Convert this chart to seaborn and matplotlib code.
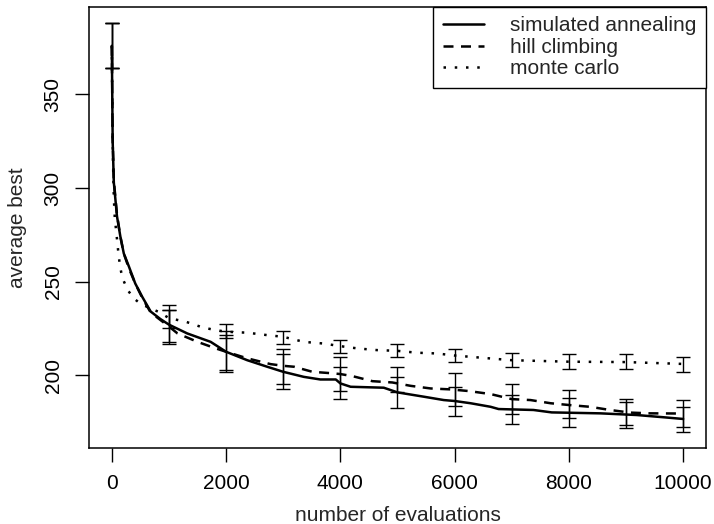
#average best vs number of evaluations for three search methods

import pandas as pd
from matplotlib import pyplot as plt
import seaborn as sns
import numpy as np

# simulated annealing curve
sa_x = [0, 15, 35, 90, 150, 210, 300, 410, 530, 680, 850, 1000, 1320, 1730, 2000, 2370, 2720, 3000,
        3360, 3650, 3920, 4000, 4180, 4760, 5000, 5460, 5810, 6000, 6280, 6630, 6770, 7380, 7700,
        8550, 9190, 9660, 10000]
sa_y = [376, 325, 303, 285, 274, 265, 258, 249, 242, 234, 230, 227, 222.3, 217.8, 212.5, 208, 204.5, 201.8,
        199.1, 197.7, 197.7, 195.6, 193.8, 193.3, 190.8, 188.5, 186.7, 186.2, 185, 183.1, 181.9, 181.4, 180.1,
        179.6, 178.7, 177.5, 176.6]

# hill climbing curve
hc_x = [0, 15, 35, 90, 150, 210, 300, 410, 530, 680, 850, 1000, 1150, 1500, 1820, 2000, 2370, 2780, 3000,
        3190, 3510, 3860, 4000, 4210, 4560, 4910, 5230, 5580, 5930, 6250, 6630, 7000, 7330, 7680, 8020,
        8370, 8720, 9070, 9420, 10000]
hc_y = [376, 326, 304, 286, 274, 265, 257, 249, 241.5, 233.5, 229.5, 226, 222.3, 217.8, 214.3, 212.5, 209, 205.9, 205,
        204.5, 201.8, 201, 200.6, 199.5, 196.8, 196.1, 194.3, 192.9, 192.4, 191.5, 189.9, 187.2, 186.7, 185, 184,
        183.1, 181.4, 180, 179.6, 179.5]

# monte carlo curve
mc_x = [0, 10, 20, 35, 52, 75, 93, 110, 134, 163, 210, 280, 385, 510, 820, 1000, 1300, 1590, 1780, 2000,
        2370, 2720, 3000, 3360, 3710, 4000, 4300, 4640, 5000, 5340, 5690, 6000, 7000, 8000, 9000, 10000]
mc_y = [376, 340, 315, 295, 284, 277.4, 272, 266.8, 260.5, 255.2, 250.2, 245.4, 241, 238, 233.8, 230.5, 228.5, 225.5, 224.3, 223.2,
        222.7, 221.4, 220.5, 217.8, 216.9, 215.5, 214.3, 213.4, 213, 212, 211.6, 210.5, 208, 207.2, 207, 206]

# error bars every 1000 evaluations (low, high)
eb_x = [0, 1000, 2000, 3000, 4000, 5000, 6000, 7000, 8000, 9000, 10000]
sa_lo = [364, 216.4, 201.8, 192.6, 187.3, 182.3, 178.2, 174.1, 172.5, 171.6, 169.8]
sa_hi = [388, 237.4, 223.5, 211.3, 204.2, 198.8, 193.5, 189.4, 188, 185.8, 183.1]
hc_lo = [364, 217.8, 202.5, 195.3, 191.7, 190.8, 183.5, 179.1, 177, 173.4, 172.5]
hc_hi = [388, 234.7, 221.5, 213.8, 209.5, 204.5, 201, 195.3, 192, 187, 186.7]
mc_lo = [364, 225, 219.6, 216.6, 211.7, 209.5, 206.8, 204.5, 203.3, 203.3, 201.8]
mc_hi = [388, 235, 227.3, 223.7, 218.7, 216.9, 213.9, 212, 211.1, 211.1, 209.5]

labels = ['simulated annealing', 'hill climbing', 'monte carlo']

df = pd.concat([
    pd.DataFrame({'evals': sa_x, 'best': sa_y, 'method': labels[0]}),
    pd.DataFrame({'evals': hc_x, 'best': hc_y, 'method': labels[1]}),
    pd.DataFrame({'evals': mc_x, 'best': mc_y, 'method': labels[2]}),
])

sns.set_style("ticks")
plt.rcParams['font.family'] = ['Liberation Sans', 'DejaVu Sans']
plt.rcParams['font.size'] = 15

fig = plt.figure(figsize=(7.14, 5.24), dpi=100)
ax = fig.add_axes([0.1246, 0.145, 0.8642, 0.8416])

sns.lineplot(data=df, x='evals', y='best', style='method', style_order=labels,
             dashes={labels[0]: '', labels[1]: (4, 3), labels[2]: (1, 3.5)},
             color='black', linewidth=1.8, estimator=None, sort=False, ax=ax)

# error bars
for lo, hi in [(sa_lo, sa_hi), (hc_lo, hc_hi), (mc_lo, mc_hi)]:
    lo = np.array(lo)
    hi = np.array(hi)
    mid = (lo + hi) / 2
    ax.errorbar(eb_x, mid, yerr=[mid - lo, hi - mid], fmt='none', ecolor='black',
                elinewidth=1.0, capsize=5, capthick=1.0)

allx = sa_x + hc_x + mc_x
ally = sa_lo + sa_hi + hc_lo + hc_hi + mc_lo + mc_hi
xr = max(allx) - min(allx)
yr = max(ally) - min(ally)
ax.set_xlim(min(allx) - 0.04 * xr, max(allx) + 0.04 * xr)
ax.set_ylim(min(ally) - 0.04 * yr, max(ally) + 0.04 * yr)

ax.set_xticks([0, 2000, 4000, 6000, 8000, 10000])
ax.set_yticks([200, 250, 300, 350])
ax.tick_params(direction='out', length=10, width=1, colors='black', labelsize=15, pad=9)
for t in ax.get_yticklabels():
    t.set_rotation(90)
    t.set_va('center')

for s in ax.spines.values():
    s.set_color('black')
    s.set_linewidth(1.1)

ax.set_xlabel('number of evaluations', fontsize=15, labelpad=9)
ax.set_ylabel('average best', fontsize=15, labelpad=12)

handles, labs = ax.get_legend_handles_labels()
leg = ax.legend(handles, labs, loc='upper right', bbox_to_anchor=(1, 1), borderaxespad=0,
                fancybox=False, framealpha=1, edgecolor='black', fontsize=15,
                handlelength=2.0, handletextpad=1.25, labelspacing=0.12, borderpad=0.45)
leg.get_frame().set_linewidth(1.0)

plt.savefig('out.png', dpi=100)
